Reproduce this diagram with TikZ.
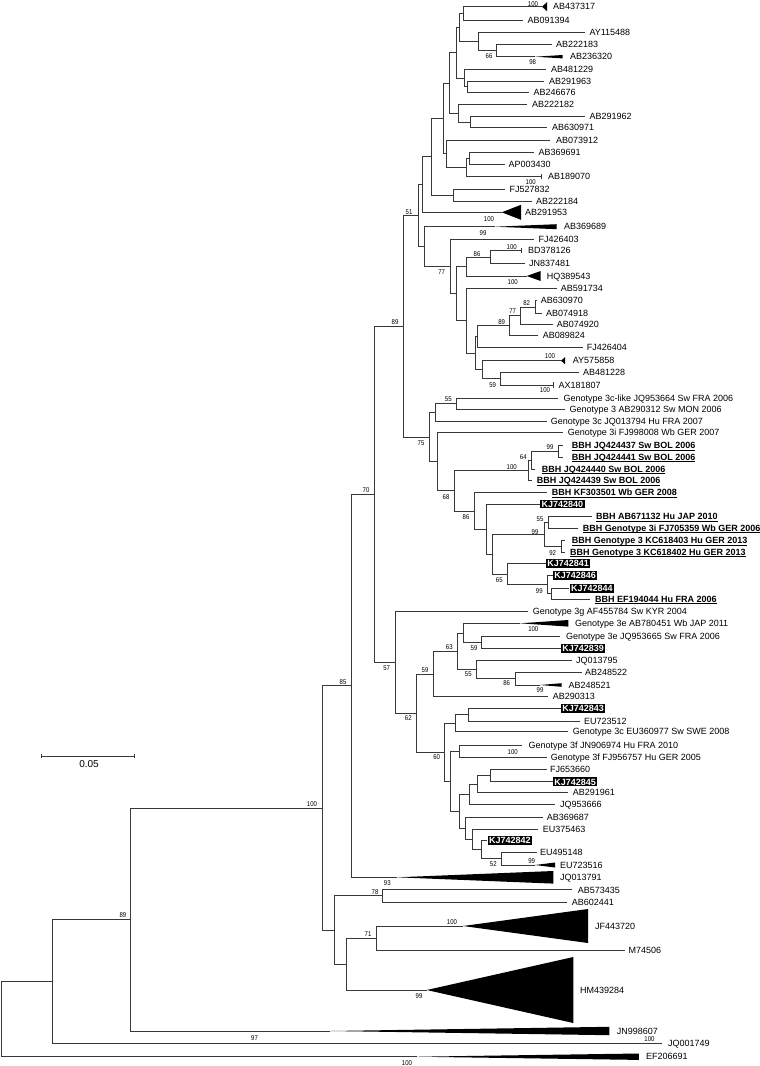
\documentclass[tikz,border=0pt]{standalone}
\usepackage{fontspec}
\setmainfont{Liberation Sans}
\newfontfamily\narrowfont[FakeStretch=0.86]{Liberation Sans}
\usetikzlibrary{calc}
\newsavebox{\ulbox}
\newcommand{\ul}[1]{\sbox{\ulbox}{#1}\rlap{\rule[-1.7pt]{\wd\ulbox}{0.8pt}}\usebox{\ulbox}}
\newcommand{\inode}[4]{\path let \p1=(#3), \p2=(#4) in (#2pt,{0.5*\y1+0.5*\y2}) coordinate (#1);}
\newcommand{\kids}[2]{\foreach \c in {#2}{\draw[br] (#1) |- (\c);}}
\newcommand{\lf}[5]{\coordinate (#1) at (#2,#3); \node[lab] (#1t) at (#4,#3) {#5};}
\newcommand{\lbb}[5]{\coordinate (#1) at (#2,#3); \node[bbh] (#1t) at (#4,#3) {\ul{#5}};}
\newcommand{\lkj}[4]{\coordinate (#1) at (#2,#3); \node[kj] (#1t) at (#1) {#4};}
\newcommand{\ltri}[7]{\coordinate (#1) at (#2,#3); \coordinate (#1a) at (#4,{#3-#5}); \coordinate (#1b) at (#4,{#3+#5}); \fill[black] (#1) -- (#1a) -- (#1b) -- cycle; \node[lab] (#1t) at (#6,#3) {#7};}
\newcommand{\ltick}[5]{\coordinate (#1) at (#2,#3); \draw[br] ([yshift=2.6pt]#1) -- ([yshift=-2.6pt]#1); \node[lab] (#1t) at (#4,#3) {#5};}
\newcommand{\bsl}[4]{\node[bs] (#1) at (#2,#3) {#4};}
\begin{document}
\begin{tikzpicture}[x=1pt,y=-1pt,
  br/.style={draw=black!78, line width=0.75pt},
  lab/.style={anchor=base west, yshift=-3.2pt, inner sep=0pt, font=\fontsize{9}{10}\selectfont},
  bbh/.style={lab, font=\fontsize{9}{10}\selectfont\bfseries},
  kj/.style={anchor=west, fill=black, text=white, font=\fontsize{9}{10}\selectfont\bfseries, inner xsep=1.5pt, inner ysep=1pt, text height=6.6pt, text depth=0pt},
  bs/.style={inner sep=0pt, font=\narrowfont\fontsize{7}{7}\selectfont}]
\useasboundingbox[fill=white] (0,0) rectangle (760,1066);
% ---------- leaves ----------
\ltri{L1}{542}{6.7}{547}{4.5}{553}{AB437317}
\lf{L2}{523.3}{20.7}{527.5}{AB091394}
\lf{L3}{585}{32.3}{589.3}{AY115488}
\lf{L4}{551.7}{44}{556}{AB222183}
\ltri{L5}{535}{56.7}{562.7}{1.7}{570}{AB236320}
\lf{L6}{546}{69}{551}{AB481229}
\lf{L7}{544.3}{81}{549}{AB291963}
\lf{L8}{529.3}{92.7}{533.5}{AB246676}
\lf{L9}{526.7}{104.3}{532}{AB222182}
\lf{L10}{585}{116.3}{589.3}{AB291962}
\lf{L11}{546.7}{127.7}{552}{AB630971}
\lf{L12}{550}{140}{556}{AB073912}
\lf{L13}{534}{152.7}{538.3}{AB369691}
\lf{L14}{505}{164}{508.5}{AP003430}
\ltick{L15}{541.7}{176.7}{548}{AB189070}
\lf{L16}{505}{189.3}{509.3}{FJ527832}
\lf{L17}{531.7}{201}{536}{AB222184}
\ltri{L18}{501.7}{212.3}{521}{7.5}{525}{AB291953}
\ltri{L19}{495}{226.7}{556.7}{2.5}{564}{AB369689}
\lf{L20}{534}{239.3}{538.3}{FJ426403}
\ltick{L21}{521.7}{250.7}{528}{BD378126}
\lf{L22}{525}{263.3}{529}{JN837481}
\ltri{L23}{526.7}{276}{540.7}{5}{546.7}{HQ389543}
\lf{L24}{556.7}{288.3}{560.7}{AB591734}
\lf{L25}{537}{300.7}{540.7}{AB630970}
\lf{L26}{541.7}{313.3}{546}{AB074918}
\lf{L27}{552.7}{324.3}{556.7}{AB074920}
\lf{L28}{538.3}{335.7}{542.7}{AB089824}
\lf{L29}{582.7}{347.7}{586.7}{FJ426404}
\ltri{L30}{561}{360.7}{565}{3.5}{572.7}{AY575858}
\lf{L31}{579}{372.7}{583}{AB481228}
\ltick{L32}{553}{385}{558.3}{AX181807}
\lf{L33}{558.3}{398.3}{563.3}{Genotype 3c-like JQ953664 Sw FRA 2006}
\lf{L34}{565}{409.3}{569.3}{Genotype 3 AB290312 Sw MON 2006}
\lf{L35}{546.7}{421}{550.7}{Genotype 3c JQ013794 Hu FRA 2007}
\lf{L36}{563.3}{432.7}{567.7}{Genotype 3i FJ998008 Wb GER 2007}
\lbb{L37}{563}{445.7}{571.7}{BBH JQ424437 Sw BOL 2006}
\lbb{L38}{563.3}{457.3}{571.7}{BBH JQ424441 Sw BOL 2006}
\lbb{L39}{535}{469}{541.7}{BBH JQ424440 Sw BOL 2006}
\lbb{L40}{531.7}{480.7}{536.7}{BBH JQ424439 Sw BOL 2006}
\lbb{L41}{547}{492.7}{551.7}{BBH KF303501 Wb GER 2008}
\lkj{L42}{540}{504}{KJ742840}
\lbb{L43}{591.7}{516.7}{596}{BBH AB671132 Hu JAP 2010}
\lbb{L44}{578.3}{528.3}{582.7}{BBH Genotype 3i FJ705359 Wb GER 2006}
\lbb{L45}{565}{540.7}{571.7}{BBH Genotype 3 KC618403 Hu GER 2013}
\lbb{L46}{565}{552.3}{570}{BBH Genotype 3 KC618402 Hu GER 2013}
\lkj{L47}{545.7}{563.3}{KJ742841}
\lkj{L48}{552.7}{575.5}{KJ742846}
\lkj{L49}{569.3}{588.3}{KJ742844}
\lbb{L50}{590}{599.3}{595}{BBH EF194044 Hu FRA 2006}
\lf{L51}{528.3}{611.7}{532.7}{Genotype 3g AF455784 Sw KYR 2004}
\ltri{L52}{520}{623.3}{568.3}{3.3}{575}{Genotype 3e AB780451 Wb JAP 2011}
\lf{L53}{560}{636.7}{566}{Genotype 3e JQ953665 Sw FRA 2006}
\lkj{L54}{560.7}{648.3}{KJ742839}
\lf{L55}{571.7}{660}{576}{JQ013795}
\lf{L56}{581.7}{672.7}{585}{AB248522}
\ltri{L57}{540}{685}{561.7}{1.8}{568.3}{AB248521}
\lf{L58}{548.3}{696.7}{552.7}{AB290313}
\lkj{L59}{560.7}{708.3}{KJ742843}
\lf{L60}{580}{721}{584}{EU723512}
\lf{L61}{568.3}{731.7}{572.7}{Genotype 3c EU360977 Sw SWE 2008}
\lf{L62}{521.7}{745}{528.3}{Genotype 3f JN906974 Hu FRA 2010}
\lf{L63}{546.7}{757.3}{550.7}{Genotype 3f FJ956757 Hu GER 2005}
\lf{L64}{546.7}{769.3}{550}{FJ653660}
\lkj{L65}{552.7}{781.7}{KJ742845}
\lf{L66}{568.3}{792.7}{572.7}{AB291961}
\lf{L67}{555}{804}{560}{JQ953666}
\lf{L68}{542.7}{817.3}{546.7}{AB369687}
\lf{L69}{538.3}{829}{542.7}{EU375463}
\lkj{L70}{487.3}{840.5}{KJ742842}
\lf{L71}{536.7}{852.7}{540}{EU495148}
\ltri{L72}{535}{865}{555}{2.5}{560}{EU723516}
\ltri{L73}{397}{877.3}{553.3}{6.3}{560}{JQ013791}
\lf{L74}{571.7}{889.8}{577.7}{AB573435}
\lf{L75}{566.7}{901.9}{571.7}{AB602441}
\ltri{L76}{463}{926}{588}{17}{595}{JF443720}
\lf{L77}{625}{950}{628.3}{M74506}
\ltri{L78}{426.7}{990}{573.3}{33}{580}{HM439284}
\ltri{L79}{330}{1031}{609.3}{4.2}{616.6}{JN998607}
\lf{L80}{661.7}{1043.7}{668}{JQ001749}
\ltri{L81}{417}{1056.7}{638.9}{3.2}{646}{EF206691}
% ---------- internal nodes ----------
\inode{a1}{463.3}{L1}{L2}
\inode{n66}{496.7}{L4}{L5}
\inode{a2}{478.3}{L3}{n66}
\inode{a3}{459.3}{a1}{a2}
\inode{a4}{467.3}{L7}{L8}
\inode{a5}{464}{L6}{a4}
\inode{a6}{456.7}{a3}{a5}
\inode{a7}{470.7}{L10}{L11}
\inode{a8}{458.3}{L9}{a7}
\inode{a9}{449.3}{a6}{a8}
\inode{nH}{469}{L13}{L14}
\inode{nG}{466}{nH}{L15}
\inode{nE}{446}{L12}{nG}
\inode{nA}{443}{a9}{nE}
\inode{nFJ}{453.3}{L16}{L17}
\inode{nC}{431.7}{nA}{nFJ}
\inode{nB}{422.7}{nC}{L18}
\inode{n86a}{490}{L21}{L22}
\inode{nK}{466}{n86a}{L23}
\inode{n82}{535}{L25}{L26}
\inode{n77c}{520}{n82}{L27}
\inode{n89c}{509.3}{n77c}{L28}
\inode{nN}{477.3}{n89c}{L29}
\inode{nP}{500.7}{L31}{L32}
\inode{nO}{482.7}{L30}{nP}
\inode{nM}{475}{nN}{nO}
\inode{nL}{466.7}{L24}{nM}
\inode{nJ}{456.7}{nK}{nL}
\inode{n77}{450}{L20}{nJ}
\inode{nI}{424}{L19}{n77}
\inode{n51}{418.3}{nB}{nI}
\inode{n55}{456.7}{L33}{L34}
\inode{nQ}{435}{n55}{L35}
\inode{n99a}{558.7}{L37}{L38}
\inode{n64}{531.7}{n99a}{L39}
\inode{n100a}{528.3}{n64}{L40}
\inode{n55b}{548.3}{L43}{L44}
\inode{n92}{561.7}{L45}{L46}
\inode{n99b}{544}{n55b}{n92}
\inode{nU}{551}{L49}{L50}
\inode{n99c}{547.7}{L48}{nU}
\inode{n65}{507.3}{L47}{n99c}
\inode{nT}{492}{n99b}{n65}
\inode{nS}{486}{L42}{nT}
\inode{n86b}{474}{L41}{nS}
\inode{n68}{454}{n100a}{n86b}
\inode{nR}{437.5}{L36}{n68}
\inode{n75}{429.3}{nQ}{nR}
\inode{n89}{403.3}{n51}{n75}
\inode{n59b}{481.7}{L53}{L54}
\inode{nV}{463.3}{L52}{n59b}
\inode{n86c}{515}{L56}{L57}
\inode{n55c}{476.7}{L55}{n86c}
\inode{n63}{457.3}{nV}{n55c}
\inode{n59}{433.3}{n63}{L58}
\inode{nY}{468.3}{L59}{L60}
\inode{nW}{455.7}{nY}{L61}
\inode{n100d}{459.3}{L62}{L63}
\inode{nCC}{490}{L64}{L65}
\inode{nDD}{477.3}{nCC}{L66}
\inode{nAA}{469.3}{nDD}{L67}
\inode{n52}{501.7}{L71}{L72}
\inode{nFF}{481.7}{L70}{n52}
\inode{nEE}{472.7}{L69}{nFF}
\inode{nBB}{465}{L68}{nEE}
\inode{nZ}{459.7}{nAA}{nBB}
\inode{nX}{450.7}{n100d}{nZ}
\inode{n60}{444.3}{nW}{nX}
\inode{n62}{416}{n59}{n60}
\inode{n57}{395.7}{L51}{n62}
\inode{n70}{374.3}{n89}{n57}
\inode{n85}{351}{n70}{L73}
\inode{n78}{382.7}{L74}{L75}
\inode{n71}{376.7}{L76}{L77}
\inode{nHH}{346.7}{n71}{L78}
\inode{nGG}{334}{n78}{nHH}
\inode{n100}{322.7}{n85}{nGG}
\inode{n130}{130}{n100}{L79}
\inode{n41}{52.4}{n130}{L80}
\inode{root}{1.5}{n41}{L81}
% ---------- branches ----------
\kids{a1}{L1,L2}
\kids{n66}{L4,L5}
\kids{a2}{L3,n66}
\kids{a3}{a1,a2}
\kids{a4}{L7,L8}
\kids{a5}{L6,a4}
\kids{a6}{a3,a5}
\kids{a7}{L10,L11}
\kids{a8}{L9,a7}
\kids{a9}{a6,a8}
\kids{nH}{L13,L14}
\kids{nG}{nH,L15}
\kids{nE}{L12,nG}
\kids{nA}{a9,nE}
\kids{nFJ}{L16,L17}
\kids{nC}{nA,nFJ}
\kids{nB}{nC,L18}
\kids{n86a}{L21,L22}
\kids{nK}{n86a,L23}
\kids{n82}{L25,L26}
\kids{n77c}{n82,L27}
\kids{n89c}{n77c,L28}
\kids{nN}{n89c,L29}
\kids{nP}{L31,L32}
\kids{nO}{L30,nP}
\kids{nM}{nN,nO}
\kids{nL}{L24,nM}
\kids{nJ}{nK,nL}
\kids{n77}{L20,nJ}
\kids{nI}{L19,n77}
\kids{n51}{nB,nI}
\kids{n55}{L33,L34}
\kids{nQ}{n55,L35}
\kids{n99a}{L37,L38}
\kids{n64}{n99a,L39}
\kids{n100a}{n64,L40}
\kids{n55b}{L43,L44}
\kids{n92}{L45,L46}
\kids{n99b}{n55b,n92}
\kids{nU}{L49,L50}
\kids{n99c}{L48,nU}
\kids{n65}{L47,n99c}
\kids{nT}{n99b,n65}
\kids{nS}{L42,nT}
\kids{n86b}{L41,nS}
\kids{n68}{n100a,n86b}
\kids{nR}{L36,n68}
\kids{n75}{nQ,nR}
\kids{n89}{n51,n75}
\kids{n59b}{L53,L54}
\kids{nV}{L52,n59b}
\kids{n86c}{L56,L57}
\kids{n55c}{L55,n86c}
\kids{n63}{nV,n55c}
\kids{n59}{n63,L58}
\kids{nY}{L59,L60}
\kids{nW}{nY,L61}
\kids{n100d}{L62,L63}
\kids{nCC}{L64,L65}
\kids{nDD}{nCC,L66}
\kids{nAA}{nDD,L67}
\kids{n52}{L71,L72}
\kids{nFF}{L70,n52}
\kids{nEE}{L69,nFF}
\kids{nBB}{L68,nEE}
\kids{nZ}{nAA,nBB}
\kids{nX}{n100d,nZ}
\kids{n60}{nW,nX}
\kids{n62}{n59,n60}
\kids{n57}{L51,n62}
\kids{n70}{n89,n57}
\kids{n85}{n70,L73}
\kids{n78}{L74,L75}
\kids{n71}{L76,L77}
\kids{nHH}{n71,L78}
\kids{nGG}{n78,nHH}
\kids{n100}{n85,nGG}
\kids{n130}{n100,L79}
\kids{n41}{n130,L80}
\kids{root}{n41,L81}
% ---------- bootstrap values ----------
\bsl{b1}{533}{4}{100}
\bsl{b2}{489}{56}{66}
\bsl{b3}{532.7}{62}{98}
\bsl{b4}{530.7}{181.7}{100}
\bsl{b5}{489}{219}{100}
\bsl{b6}{409}{211.7}{51}
\bsl{b7}{483}{232.7}{99}
\bsl{b8}{511.7}{246.7}{100}
\bsl{b9}{477}{254.3}{86}
\bsl{b10}{441.7}{272.5}{77}
\bsl{b11}{512.7}{281.7}{100}
\bsl{b12}{526.7}{302.7}{82}
\bsl{b13}{512.7}{310.7}{77}
\bsl{b14}{501.7}{321.7}{89}
\bsl{b15}{395}{322.5}{89}
\bsl{b16}{550}{356}{100}
\bsl{b17}{492.7}{385}{59}
\bsl{b18}{545}{390}{100}
\bsl{b19}{448.3}{399}{55}
\bsl{b20}{421}{443.3}{75}
\bsl{b21}{550}{447.3}{99}
\bsl{b22}{523.3}{456.7}{64}
\bsl{b23}{511.7}{467.3}{100}
\bsl{b24}{446}{496.7}{68}
\bsl{b25}{366}{490}{70}
\bsl{b26}{466}{516.7}{86}
\bsl{b27}{540}{519}{55}
\bsl{b28}{535}{531.7}{99}
\bsl{b29}{552.7}{552.7}{92}
\bsl{b30}{499.3}{580}{65}
\bsl{b31}{539.3}{590.7}{99}
\bsl{b32}{386.7}{667.7}{57}
\bsl{b33}{533.3}{629}{100}
\bsl{b34}{449.3}{647.3}{63}
\bsl{b35}{474}{648.3}{59}
\bsl{b36}{425}{670}{59}
\bsl{b37}{468.3}{674.3}{55}
\bsl{b38}{506.7}{683.3}{86}
\bsl{b39}{540}{690}{99}
\bsl{b40}{408.3}{718.3}{62}
\bsl{b41}{512.7}{751.7}{100}
\bsl{b42}{436.7}{757.3}{60}
\bsl{b43}{493.3}{864.3}{52}
\bsl{b44}{531.7}{860.7}{99}
\bsl{b45}{387.3}{883.3}{93}
\bsl{b46}{343}{682}{85}
\bsl{b47}{312}{804}{100}
\bsl{b48}{375}{892}{78}
\bsl{b49}{368}{934}{71}
\bsl{b50}{452}{922}{100}
\bsl{b51}{419}{996}{99}
\bsl{b52}{123}{915}{89}
\bsl{b53}{254.5}{1037.7}{97}
\bsl{b54}{649.5}{1039}{100}
\bsl{b55}{407}{1063}{100}
% ---------- scale bar ----------
\coordinate (sbA) at (41.7,756);
\coordinate (sbB) at (134.3,756);
\draw[br] (sbA) -- (sbB);
\draw[br] ([yshift=2pt]sbA) -- ([yshift=-2pt]sbA);
\draw[br] ([yshift=2pt]sbB) -- ([yshift=-2pt]sbB);
\node[inner sep=0pt, font=\fontsize{10}{11}\selectfont] (sbl) at (89,764.5) {0.05};
\end{tikzpicture}
\end{document}
